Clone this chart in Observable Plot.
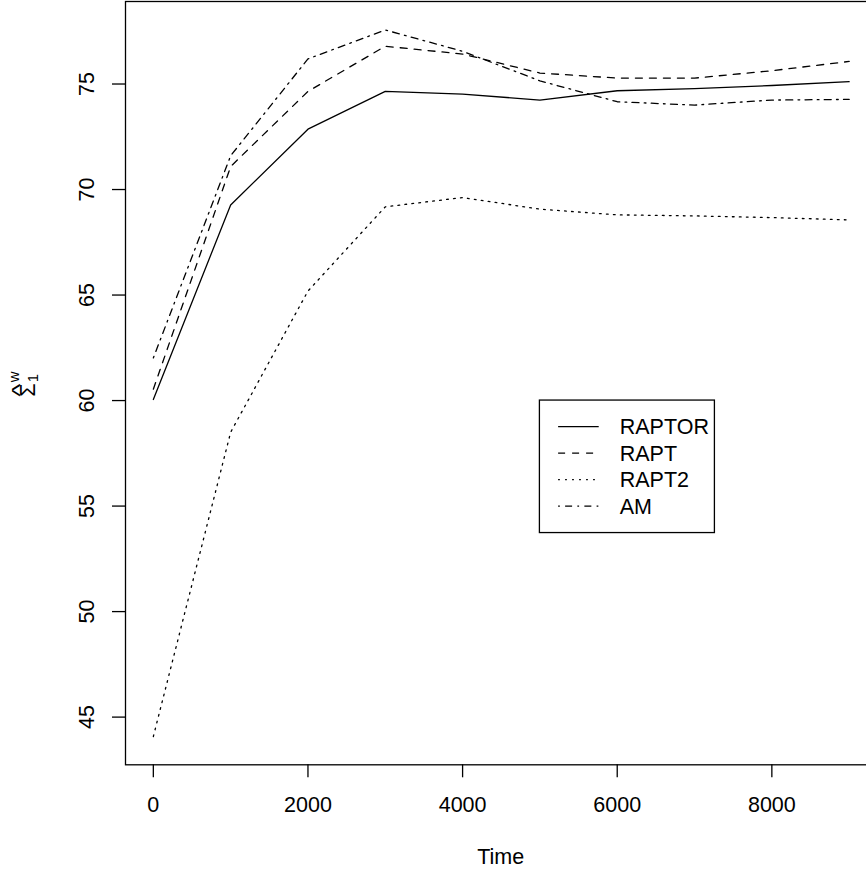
<!DOCTYPE html>
<html>
<head>
<meta charset="utf-8">
<script src="https://cdn.jsdelivr.net/npm/d3@7"></script>
<script src="https://cdn.jsdelivr.net/npm/@observablehq/plot@0.6"></script>
<style>
  html, body { margin: 0; padding: 0; background: white; overflow: hidden; }
  #chart svg { overflow: hidden; display: block; }
</style>
</head>
<body>
<div id="chart"></div>
<script>
// ---- data ----
const time   = [0, 1000, 2000, 3000, 4000, 5000, 6000, 7000, 8000, 9000];
const raptor = [60.05, 69.27, 72.86, 74.65, 74.52, 74.24, 74.68, 74.78, 74.93, 75.11];
const rapt   = [60.54, 71.09, 74.65, 76.79, 76.42, 75.52, 75.28, 75.28, 75.63, 76.07];
const rapt2  = [44.08, 58.50, 65.19, 69.18, 69.62, 69.07, 68.80, 68.75, 68.67, 68.56];
const am     = [62.02, 71.60, 76.19, 77.56, 76.55, 75.15, 74.16, 74.00, 74.24, 74.27];

const seriesNames = ["RAPTOR", "RAPT", "RAPT2", "AM"];
const seriesValues = [raptor, rapt, rapt2, am];
const dashes = [null, "7,7", "1.75,5.25", "1.75,5.25,7,5.25"];

const xTicks = [0, 2000, 4000, 6000, 8000];
const yTicks = [45, 50, 55, 60, 65, 70, 75];
const xLabel = "Time";
const legendAt = {x: 5000, y: 60};

const rows = seriesNames.map((name, i) => time.map((t, j) => ({series: name, time: t, value: seriesValues[i][j]})));

const FONT = "'Liberation Sans', Arial, Helvetica, sans-serif";
const FS = 21.5;
const LW = 1.3;

const chart = Plot.plot({
  width: 866,
  height: 876,
  marginLeft: 125,
  marginRight: -10.5,
  marginTop: 1,
  marginBottom: 111.7,
  style: {fontFamily: FONT, fontSize: FS + "px", color: "black", background: "white", overflow: "hidden"},
  x: {domain: [-360, 9360]},
  y: {domain: [42.74, 78.91]},
  marks: [
    Plot.axisX({ticks: xTicks, tickSize: 13, tickPadding: 19.4, tickFormat: d => String(d), label: null, fontSize: FS, strokeWidth: LW}),
    Plot.axisY({ticks: yTicks, tickSize: 13, tickPadding: 18.7, tickRotate: -90, tickFormat: d => String(d), label: null, fontSize: FS, strokeWidth: LW}),
    ...rows.map((data, i) => Plot.line(data, {x: "time", y: "value", stroke: "black", strokeWidth: LW, strokeDasharray: dashes[i] ?? undefined})),
    Plot.frame({stroke: "black", strokeWidth: LW})
  ]
});
document.getElementById("chart").appendChild(chart);

const svg = d3.select(chart);
const xs = chart.scale("x"), ys = chart.scale("y");
const [x0, x1] = xs.range;
const [y0, y1] = ys.range;

// x label
svg.append("text")
  .attr("x", (x0 + x1) / 2).attr("y", 864)
  .attr("text-anchor", "middle")
  .style("font-family", FONT).style("font-size", FS + "px")
  .text(xLabel);

// y label: Sigma-hat with subscript 1 and superscript w
const yl = svg.append("g")
  .attr("transform", `translate(35,${(y0 + y1) / 2}) rotate(-90)`)
  .attr("text-anchor", "start")
  .style("font-family", FONT);
yl.append("text").attr("x", -14).attr("y", 0).attr("text-anchor", "start").style("font-size", FS + "px").text("Σ");
yl.append("text").attr("x", -7.5).attr("y", -8).attr("text-anchor", "middle")
  .attr("transform", "translate(-7.5,0) scale(1.3,1) translate(7.5,0)")
  .style("font-size", FS + "px").text("^");
yl.append("text").attr("x", 0.5).attr("y", 3).attr("text-anchor", "start").style("font-size", "15px").text("1");
yl.append("text").attr("x", 0.5).attr("y", -16).attr("text-anchor", "start").style("font-size", "15px").text("w");

// legend
const lx = xs.apply(legendAt.x), ly = ys.apply(legendAt.y);
const rowH = 26.5, boxW = 175;
const lg = svg.append("g").attr("text-anchor", "start");
lg.append("rect")
  .attr("x", lx).attr("y", ly)
  .attr("width", boxW).attr("height", rowH * (seriesNames.length + 1))
  .attr("fill", "white").attr("stroke", "black").attr("stroke-width", LW);
seriesNames.forEach((name, i) => {
  const cy = ly + rowH * (i + 1);
  const ln = lg.append("line")
    .attr("x1", lx + 18.7).attr("x2", lx + 59.3)
    .attr("y1", cy).attr("y2", cy)
    .attr("stroke", "black").attr("stroke-width", LW);
  if (dashes[i]) ln.attr("stroke-dasharray", dashes[i]);
  lg.append("text")
    .attr("x", lx + 80.3).attr("y", cy).attr("dy", "0.35em")
    .attr("text-anchor", "start")
    .style("font-family", FONT).style("font-size", FS + "px")
    .text(name);
});
</script>
</body>
</html>
